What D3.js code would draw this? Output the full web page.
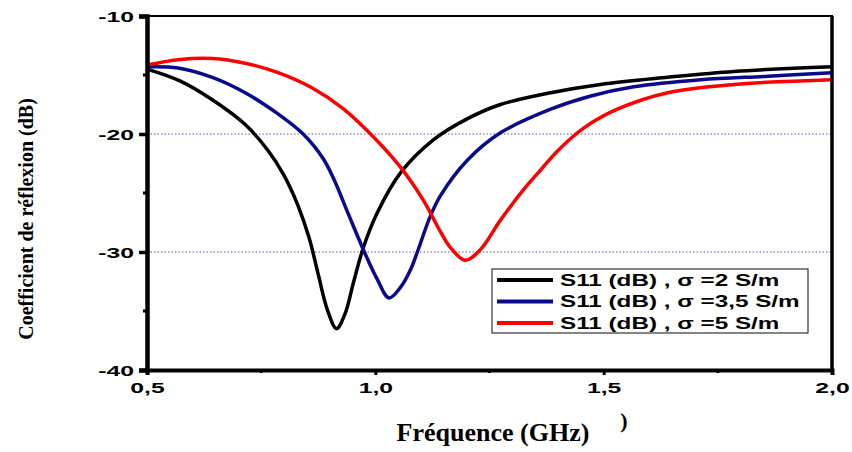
<!DOCTYPE html>
<html>
<head>
<meta charset="utf-8">
<script src="https://cdn.jsdelivr.net/npm/d3@7"></script>
<style>
  body { margin: 0; background: #fff; }
  svg { display: block; }
  .tick-label { font-family: "Liberation Sans", Arial, sans-serif; font-weight: bold; font-size: 15px; }
  .title { font-family: "Liberation Serif", "Times New Roman", serif; font-weight: bold; }
  .leg { font-family: "Liberation Sans", Arial, sans-serif; font-weight: bold; font-size: 16.5px; }
</style>
</head>
<body>
<svg id="chart" width="852" height="452"></svg>
<script>
// frequency (GHz) / S11 (dB)
const freqBlack = [0.5, 0.572, 0.643, 0.715, 0.765, 0.80, 0.83, 0.855, 0.875, 0.895, 0.915, 0.934, 0.952, 0.974, 1.004, 1.055, 1.127, 1.202, 1.274, 1.384, 1.493, 1.64, 1.785, 2.0]
const s11Black  = [-14.5, -15.5, -17.1, -19.2, -21.4, -23.5, -26.0, -28.8, -31.9, -34.9, -36.5, -35.2, -32.6, -29.6, -26.7, -23.3, -20.5, -18.7, -17.5, -16.5, -15.8, -15.2, -14.7, -14.3]

const freqBlue = [0.5, 0.568, 0.643, 0.715, 0.787, 0.842, 0.886, 0.91, 0.939, 0.976, 1.004, 1.03, 1.055, 1.077, 1.092, 1.12, 1.143, 1.202, 1.274, 1.384, 1.47, 1.566, 1.713, 1.86, 2.0]
const s11Blue  = [-14.3, -14.4, -15.2, -16.5, -18.3, -20.0, -22.1, -23.9, -26.6, -30.0, -32.3, -33.9, -33.0, -31.5, -30.0, -27.0, -25.2, -22.2, -19.9, -17.9, -16.8, -16.0, -15.4, -15.1, -14.8]

const freqRed = [0.5, 0.568, 0.643, 0.715, 0.787, 0.862, 0.928, 0.982, 1.055, 1.105, 1.14, 1.164, 1.197, 1.23, 1.274, 1.325, 1.362, 1.4, 1.456, 1.53, 1.64, 1.785, 2.0]
const s11Red  = [-14.15, -13.7, -13.6, -14.0, -14.8, -16.1, -17.8, -19.7, -22.8, -25.6, -28.1, -29.6, -30.7, -29.8, -27.3, -24.7, -23.05, -21.4, -19.5, -17.9, -16.5, -15.8, -15.4]

const seriesNames = ['S11 (dB) , σ =2 S/m', 'S11 (dB) , σ =3,5 S/m', 'S11 (dB) , σ =5 S/m']
const seriesColors = ['#000000', '#0a0a8c', '#ff0000']

const xTicks = [0.5, 1.0, 1.5, 2.0]
const xMinor = [0.75, 1.25, 1.75]
const yTicks = [-10, -20, -30, -40]
const yMinor = [-15, -25, -35]
const gridValues = [-20, -30]

const series = [
  { name: seriesNames[0], color: seriesColors[0], pts: freqBlack.map((f, i) => [f, s11Black[i]]) },
  { name: seriesNames[1], color: seriesColors[1], pts: freqBlue.map((f, i) => [f, s11Blue[i]]) },
  { name: seriesNames[2], color: seriesColors[2], pts: freqRed.map((f, i) => [f, s11Red[i]]) },
]

const svg = d3.select('#chart')
const mLeft = 147, mRight = 832, mTop = 16, mBottom = 370
const stretch = 1.65  // tick labels are drawn wide in the original

const x = d3.scaleLinear().domain([0.5, 2.0]).range([mLeft, mRight])
const y = d3.scaleLinear().domain([-40, -10]).range([mBottom, mTop])
const fmt = d => d3.format('.1f')(d).replace('.', ',')

// dotted grid
svg.append('g')
  .selectAll('line')
  .data(gridValues)
  .join('line')
    .attr('x1', mLeft).attr('x2', mRight)
    .attr('y1', d => y(d)).attr('y2', d => y(d))
    .attr('stroke', '#5a52c8')
    .attr('stroke-width', 1)
    .attr('stroke-dasharray', '1.5,2')

// curves
const line = d3.line()
  .x(d => x(d[0]))
  .y(d => y(d[1]))
  .curve(d3.curveCatmullRom.alpha(0.5))

svg.append('g')
  .selectAll('path')
  .data(series)
  .join('path')
    .attr('d', d => line(d.pts))
    .attr('fill', 'none')
    .attr('stroke', d => d.color)
    .attr('stroke-width', 3.5)
    .attr('stroke-linejoin', 'round')

// frame
svg.append('line').attr('x1', mLeft).attr('x2', mRight + 1).attr('y1', mTop).attr('y2', mTop)
  .attr('stroke', '#000').attr('stroke-width', 2)
svg.append('line').attr('x1', mRight).attr('x2', mRight).attr('y1', mTop).attr('y2', mBottom)
  .attr('stroke', '#000').attr('stroke-width', 3.5)

// axes
const yAxis = svg.append('g')
  .attr('transform', `translate(${mLeft},0)`)
  .call(d3.axisLeft(y).tickValues(yTicks).tickSize(8).tickFormat(d => d3.format('d')(d).replace('−', '-')))
yAxis.select('.domain').attr('stroke-width', 4.5)
yAxis.selectAll('.tick line').attr('stroke-width', 3.5)
yAxis.selectAll('.tick text')
  .attr('class', 'tick-label').attr('fill', '#000')
  .attr('x', -13 / stretch).attr('dy', '0.36em')
  .attr('transform', `scale(${stretch},1)`)
yAxis.selectAll('.minor')
  .data(yMinor)
  .join('line')
    .attr('class', 'minor')
    .attr('x1', -4).attr('x2', 0)
    .attr('y1', d => y(d)).attr('y2', d => y(d))
    .attr('stroke', '#000').attr('stroke-width', 3)

const xAxis = svg.append('g')
  .attr('transform', `translate(0,${mBottom})`)
  .call(d3.axisBottom(x).tickValues(xTicks).tickSize(5).tickFormat(fmt))
xAxis.select('.domain').attr('stroke-width', 4)
xAxis.selectAll('.tick line').attr('stroke-width', 3)
xAxis.selectAll('.tick text')
  .attr('class', 'tick-label').attr('fill', '#000')
  .attr('y', 10).attr('dy', '0.9em')
  .attr('transform', `scale(${stretch},1)`)
xAxis.selectAll('.minor')
  .data(xMinor)
  .join('line')
    .attr('class', 'minor')
    .attr('x1', d => x(d)).attr('x2', d => x(d))
    .attr('y1', 0).attr('y2', 3)
    .attr('stroke', '#000').attr('stroke-width', 3)

// axis titles
svg.append('text')
  .attr('class', 'title')
  .attr('transform', 'translate(33,219) rotate(-90)')
  .attr('text-anchor', 'middle')
  .attr('font-size', 20)
  .text('Coefficient de réflexion (dB)')

svg.append('text')
  .attr('class', 'title')
  .attr('x', 493).attr('y', 441)
  .attr('text-anchor', 'middle')
  .attr('font-size', 26)
  .text('Fréquence (GHz)')

svg.append('text')
  .attr('class', 'title')
  .attr('x', 624).attr('y', 428)
  .attr('text-anchor', 'middle')
  .attr('font-size', 22)
  .text(')')

// legend
const leg = svg.append('g').attr('transform', 'translate(492,269)')
leg.append('rect')
  .attr('width', 316).attr('height', 64)
  .attr('fill', '#fff').attr('stroke', '#333').attr('stroke-width', 1.2)

const items = leg.selectAll('g.item')
  .data(series)
  .join('g')
    .attr('class', 'item')
    .attr('transform', (d, i) => `translate(0,${11 + i * 21.5})`)
items.append('line')
  .attr('x1', 5).attr('x2', 61).attr('y1', 0).attr('y2', 0)
  .attr('stroke', d => d.color).attr('stroke-width', 4)
items.append('text')
  .attr('class', 'leg')
  .attr('transform', 'translate(68,0) scale(1.47,1)')
  .attr('dy', '0.36em')
  .text(d => d.name)
</script>
</body>
</html>
